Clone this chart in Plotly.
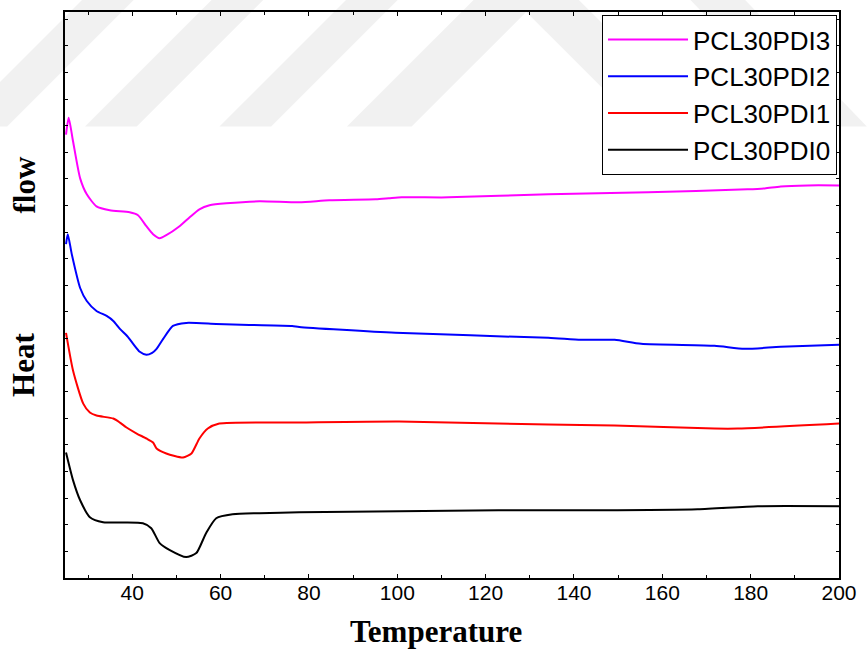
import plotly.graph_objects as go

# Temperature (°C) and heat flow (arbitrary units, offset curves)
t_pdi3 = [25.0, 25.6, 26.6, 28.2, 29.7, 31.9, 34.9, 39.4, 41.3, 43.2, 44.7, 46.2, 47.7, 50.7, 53.0,
          55.2, 57.5, 61.3, 68.8, 77.8, 84.6, 95.1, 98.1, 101.0, 111.6, 134.2, 156.8, 179.3, 183.2,
          186.8, 192.9, 200.0]
hf_pdi3 = [445, 462, 438, 401, 385, 373, 369, 367, 364, 353, 345, 341, 344, 353, 362,
           370, 374, 376, 378, 377, 379, 380, 381, 382, 382, 385, 387, 390, 391,
           393, 394, 394]

t_pdi2 = [25.0, 25.4, 26.3, 28.2, 29.7, 31.9, 34.2, 35.7, 37.2, 39.0, 40.2, 41.7, 43.2, 44.5, 45.5,
          47.0, 49.2, 52.2, 59.0, 66.5, 76.2, 77.8, 99.6, 134.2, 141.6, 149.2, 155.2, 171.8, 178.6,
          186.8, 200.0]
hf_pdi2 = [335, 345, 325, 291, 278, 268, 263, 258, 250, 242, 235, 227, 224, 226, 230,
           240, 253, 256, 255, 254, 253, 252, 246, 241, 239, 239, 235, 233, 230,
           232, 234]

t_pdi1 = [25.0, 26.6, 28.9, 30.4, 31.9, 35.7, 37.2, 38.7, 41.0, 43.2, 44.7, 45.5, 47.7, 51.5, 53.4,
          55.2, 57.1, 59.7, 77.8, 100.4, 134.2, 149.2, 171.8, 177.1, 200.0]
hf_pdi1 = [246, 208, 175, 166, 163, 160, 156, 151, 145, 140, 136, 130, 125, 121, 125,
           140, 150, 155, 156, 157, 154, 153, 150, 150, 155]

t_pdi0 = [25.0, 26.6, 28.2, 30.4, 33.4, 42.4, 44.3, 46.2, 48.5, 52.2, 54.5, 56.7, 59.0, 62.7, 68.8,
          77.8, 100.4, 122.9, 145.5, 168.0, 181.6, 200.0]
hf_pdi0 = [126, 98, 78, 61, 56, 55, 50, 35, 28, 21, 25, 45, 60, 64, 65,
           66, 67, 68, 68, 69, 72, 72]

series_names = ["PCL30PDI3", "PCL30PDI2", "PCL30PDI1", "PCL30PDI0"]
series_colors = ["#FF00FF", "#0000FF", "#FF0000", "#000000"]
series_t = [t_pdi3, t_pdi2, t_pdi1, t_pdi0]
series_hf = [hf_pdi3, hf_pdi2, hf_pdi1, hf_pdi0]

x_tickvals = [40, 60, 80, 100, 120, 140, 160, 180, 200]

fig = go.Figure()
for name, color, tx, hy in zip(series_names, series_colors, series_t, series_hf):
    fig.add_trace(go.Scatter(x=tx, y=hy, mode="lines", name=name,
                             line=dict(color=color, width=2, shape="spline", smoothing=0.6)))

W, H = 867, 651
L, R, T, B = 65, 25, 10, 73
pw, ph = W - L - R, H - T - B


def px(xp):
    return (xp - L) / pw


def py(yp):
    return (H - B - yp) / ph


# faint watermark in the background
wm = "rgba(0,0,0,0.055)"
shapes = []
for xb in [-45, 85, 220]:
    path = "M{},{} L{},{} L{},{} L{},{} Z".format(
        px(xb), py(125), px(xb + 52), py(125), px(xb + 52 + 130), py(-5), px(xb + 130), py(-5))
    shapes.append(dict(type="path", xref="paper", yref="paper", path=path,
                       fillcolor=wm, line=dict(width=0), layer="below"))
cx = 528
chev = "M{},{} L{},{} L{},{} L{},{} L{},{} L{},{} Z".format(
    px(348), py(125), px(cx), py(-55), px(708), py(125),
    px(643), py(125), px(cx), py(10), px(413), py(125))
shapes.append(dict(type="path", xref="paper", yref="paper", path=chev,
                   fillcolor=wm, line=dict(width=0), layer="below"))
desc = "M{},{} L{},{} L{},{} L{},{} Z".format(
    px(690), py(-5), px(745), py(-5), px(870), py(125), px(815), py(125))
shapes.append(dict(type="path", xref="paper", yref="paper", path=desc,
                   fillcolor=wm, line=dict(width=0), layer="below"))

title_font = dict(family="Liberation Serif, Times New Roman, serif", size=31, color="black")

fig.update_layout(
    width=W, height=H,
    margin=dict(l=L, r=R, t=T, b=B),
    paper_bgcolor="white",
    plot_bgcolor="rgba(0,0,0,0)",
    showlegend=True,
    legend=dict(x=px(840), y=py(13), xanchor="right", yanchor="top",
                bgcolor="white", bordercolor="black", borderwidth=1,
                font=dict(family="Liberation Sans, Arial, sans-serif", size=26, color="black"),
                itemwidth=80, tracegroupgap=0),
    shapes=shapes,
    annotations=[
        dict(text="<b>Temperature</b>", xref="paper", yref="paper", x=px(437), y=py(632),
             xanchor="center", yanchor="middle", showarrow=False, font=title_font),
        dict(text="<b>Heat</b>", xref="paper", yref="paper", x=px(24), y=py(364),
             xanchor="center", yanchor="middle", showarrow=False, font=title_font, textangle=-90),
        dict(text="<b>flow</b>", xref="paper", yref="paper", x=px(24), y=py(184),
             xanchor="center", yanchor="middle", showarrow=False, font=title_font, textangle=-90),
    ],
)

fig.update_xaxes(range=[24.77, 200], tickvals=x_tickvals, ticktext=[str(v) for v in x_tickvals],
                 showgrid=False, zeroline=False, showline=True, linecolor="black", linewidth=2,
                 mirror="ticks", ticks="inside", ticklen=4, tickwidth=1, tickcolor="black",
                 ticklabelstandoff=-5,
                 minor=dict(dtick=10, tick0=0, ticks="inside", ticklen=3, tickcolor="black"),
                 tickfont=dict(family="Liberation Sans, Arial, sans-serif", size=21, color="black"))
fig.update_yaxes(range=[0, 568], showticklabels=False, showgrid=False, zeroline=False,
                 showline=True, linecolor="black", linewidth=2, mirror="ticks",
                 ticks="inside", ticklen=3, tickwidth=1, tickcolor="black",
                 tick0=0, dtick=26.7)

fig.write_html("out.html")
